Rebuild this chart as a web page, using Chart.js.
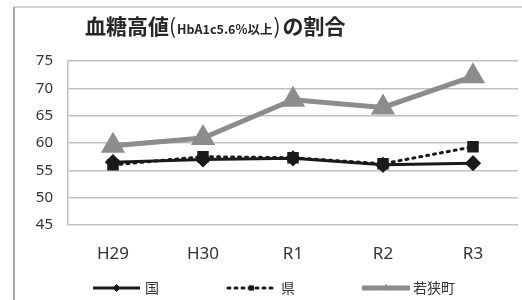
<!DOCTYPE html>
<html>
<head>
<meta charset="utf-8">
<script src="https://cdn.jsdelivr.net/npm/chart.js@4.4.0/dist/chart.umd.min.js"></script>
<style>
  html, body { margin: 0; padding: 0; background: #fff; }
  #wrap { width: 522px; height: 300px; position: relative; }
</style>
</head>
<body>
<div id="wrap"><canvas id="myChart" width="522" height="300"></canvas></div>
<script>
// 年度
const years = ["H29", "H30", "R1", "R2", "R3"];
// 血糖高値の割合 (%)
const kuni = [56.5, 57.0, 57.2, 56.0, 56.3];
const ken = [56.0, 57.5, 57.3, 56.2, 59.3];
const wakasa = [59.5, 60.9, 67.9, 66.5, 72.2];
const yTicks = [45, 50, 55, 60, 65, 70, 75];

const jpFont = '"Noto Sans CJK JP", "Noto Sans", sans-serif';

// タイトルと枠線
const titlePlugin = {
    id: "titleFrame",
    beforeDraw(chart) {
        const ctx = chart.ctx;
        ctx.save();
        ctx.strokeStyle = "#c4c4c4";
        ctx.lineWidth = 1.5;
        ctx.beginPath();
        ctx.moveTo(14, 7);
        ctx.lineTo(522, 7);
        ctx.stroke();
        ctx.strokeStyle = "#8a8a8a";
        ctx.beginPath();
        ctx.moveTo(14, 300);
        ctx.lineTo(14, 7);
        ctx.stroke();

        ctx.fillStyle = "#262626";
        ctx.textBaseline = "alphabetic";
        let x = 85;
        const y = 34;
        const parts = [
            ["bold 21px " + jpFont, "血糖高値", 0],
            ["21px " + jpFont, "(", 1],
            ["bold 12.5px " + jpFont, "HbA1c5.6%以上", 1],
            ["21px " + jpFont, ")", 2],
            ["bold 21px " + jpFont, "の割合", 0]
        ];
        parts.forEach(p => {
            ctx.font = p[0];
            ctx.fillText(p[1], x, y);
            x += ctx.measureText(p[1]).width + p[2];
        });
        ctx.restore();
    }
};

// 凡例 (線の中央にマーカー)
const legendPlugin = {
    id: "lineLegend",
    afterDraw(chart) {
        const ctx = chart.ctx;
        const y = 288;
        const items = [
            { idx: 0, x1: 93, x2: 140, tx: 145, r: 3.5 },
            { idx: 1, x1: 228, x2: 275, tx: 281, r: 3 },
            { idx: 2, x1: 362, x2: 410, tx: 413, r: 3.5 }
        ];
        ctx.save();
        items.forEach(it => {
            const ds = chart.data.datasets[it.idx];
            ctx.strokeStyle = ds.borderColor;
            ctx.lineWidth = ds.borderWidth;
            ctx.lineCap = ds.borderCapStyle || "butt";
            ctx.setLineDash(ds.borderDash || []);
            ctx.beginPath();
            ctx.moveTo(it.x1, y);
            ctx.lineTo(it.x2, y);
            ctx.stroke();
            ctx.setLineDash([]);
            ctx.fillStyle = ds.backgroundColor;
            ctx.lineWidth = 1;
            Chart.helpers.drawPoint(ctx, {
                pointStyle: ds.pointStyle,
                radius: it.r,
                rotation: 0,
                borderWidth: 1
            }, (it.x1 + it.x2) / 2, y);
            ctx.fillStyle = "#333";
            ctx.font = "14px " + jpFont;
            ctx.textBaseline = "middle";
            ctx.fillText(ds.label, it.tx, y);
        });
        ctx.restore();
    }
};

const ctx = document.getElementById("myChart").getContext("2d");
new Chart(ctx, {
    type: "line",
    data: {
        labels: years,
        datasets: [
            {
                label: "国",
                data: kuni,
                borderColor: "#1a1a1a",
                backgroundColor: "#1a1a1a",
                borderWidth: 3,
                pointStyle: "rectRot",
                pointRadius: 6,
                order: 1
            },
            {
                label: "県",
                data: ken,
                borderColor: "#1a1a1a",
                backgroundColor: "#1a1a1a",
                borderWidth: 3,
                borderDash: [2, 5],
                borderCapStyle: "round",
                pointStyle: "rect",
                pointRadius: 6,
                order: 2
            },
            {
                label: "若狭町",
                data: wakasa,
                borderColor: "#8c8c8c",
                backgroundColor: "#8c8c8c",
                borderWidth: 5,
                pointStyle: "triangle",
                pointRadius: 9,
                order: 0
            }
        ]
    },
    options: {
        responsive: false,
        animation: false,
        layout: {
            autoPadding: false,
            padding: { left: 20, right: 4, top: 61, bottom: 40 }
        },
        plugins: {
            legend: { display: false },
            title: { display: false },
            tooltip: { enabled: false }
        },
        scales: {
            x: {
                offset: true,
                grid: { display: false, drawTicks: false, offset: true },
                border: { display: false },
                ticks: {
                    color: "#333",
                    font: { family: '"Noto Sans", sans-serif', size: 17 },
                    padding: 19
                },
                afterFit(s) { s.height = 35; }
            },
            y: {
                min: 45,
                max: 75,
                afterBuildTicks(s) { s.ticks = yTicks.map(v => ({ value: v })); },
                grid: { color: "#c0c0c0", lineWidth: 1.5, drawTicks: false },
                border: { display: true, color: "#c0c0c0", width: 1.5 },
                ticks: {
                    color: "#333",
                    font: { family: '"Noto Sans", sans-serif', size: 15 },
                    padding: 15
                },
                afterFit(s) { s.width = 48; }
            }
        }
    },
    plugins: [titlePlugin, legendPlugin]
});
</script>
</body>
</html>
